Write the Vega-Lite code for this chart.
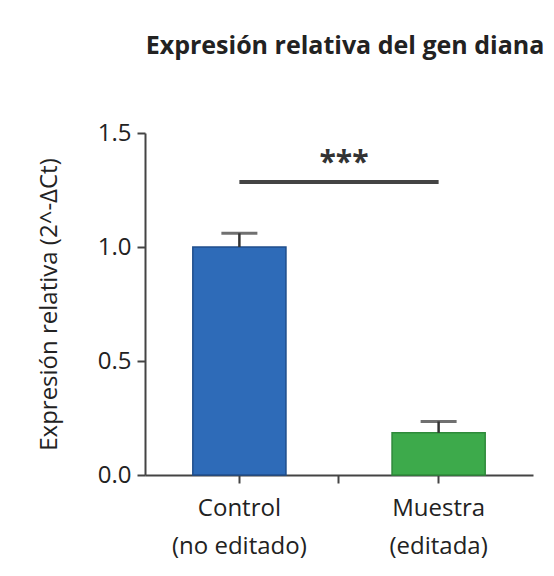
{
  "$schema": "https://vega.github.io/schema/vega-lite/v6.json",
  "width": 388,
  "height": 342,
  "autosize": {"type": "none"},
  "padding": {"left": 145, "top": 133, "right": 21, "bottom": 101},
  "background": "white",
  "title": {
    "text": "Expresión relativa del gen diana",
    "font": "Open Sans",
    "fontSize": 25,
    "fontWeight": "bold",
    "color": "#222222",
    "anchor": "middle",
    "frame": "group",
    "baseline": "alphabetic",
    "offset": 42,
    "dx": 6
  },
  "datasets": {
    "barras": [
      {"grupo": "Control", "valor": 1.0, "err": 1.06},
      {"grupo": "Muestra", "valor": 0.185, "err": 0.235}
    ],
    "signif": [
      {"desde": "Control", "hasta": "Muestra", "y": 1.285, "pos": "mid", "ty": 1.37, "txt": "***"}
    ]
  },
  "config": {
    "view": {"stroke": null},
    "axis": {
      "labelFont": "Open Sans",
      "titleFont": "Open Sans",
      "labelColor": "#222222",
      "titleColor": "#222222",
      "domainColor": "#444444",
      "tickColor": "#444444",
      "domainWidth": 2,
      "tickWidth": 2,
      "tickSize": 8,
      "grid": false
    }
  },
  "encoding": {
    "x": {
      "field": "grupo",
      "type": "nominal",
      "scale": {"domain": ["Control", "mid", "Muestra"], "paddingInner": 0.065, "paddingOuter": 0.48},
      "axis": {
        "title": null,
        "labelAngle": 0,
        "labelFontSize": 24,
        "labelPadding": 13,
        "labelLineHeight": 38,
        "labelExpr": "datum.value == 'Control' ? ['Control', '(no editado)'] : datum.value == 'Muestra' ? ['Muestra', '(editada)'] : ''"
      }
    }
  },
  "layer": [
    {
      "data": {"name": "barras"},
      "mark": {"type": "bar", "strokeWidth": 1.5},
      "encoding": {
        "y": {
          "field": "valor",
          "type": "quantitative",
          "scale": {"domain": [0, 1.5], "nice": false},
          "axis": {
            "title": "Expresión relativa (2^-ΔCt)",
            "titleFontSize": 24,
            "titleFontWeight": "normal",
            "titlePadding": 36,
            "titleLimit": 1000,
            "values": [0, 0.5, 1.0, 1.5],
            "format": ".1f",
            "labelFontSize": 24,
            "labelPadding": 6
          }
        },
        "fill": {
          "field": "grupo",
          "type": "nominal",
          "scale": {"domain": ["Control", "Muestra"], "range": ["#2E6BB8", "#3DAA4B"]},
          "legend": null
        },
        "stroke": {
          "field": "grupo",
          "type": "nominal",
          "scale": {"domain": ["Control", "Muestra"], "range": ["#1F4E8C", "#2E8A3A"]},
          "legend": null
        }
      }
    },
    {
      "data": {"name": "barras"},
      "mark": {"type": "rule", "color": "#333333", "strokeWidth": 2.5},
      "encoding": {
        "y": {"field": "valor", "type": "quantitative"},
        "y2": {"field": "err"}
      }
    },
    {
      "data": {"name": "barras"},
      "mark": {"type": "tick", "color": "#333333", "size": 36, "thickness": 3, "orient": "horizontal"},
      "encoding": {
        "y": {"field": "err", "type": "quantitative"}
      }
    },
    {
      "data": {"name": "signif"},
      "mark": {"type": "rule", "color": "#444444", "strokeWidth": 4},
      "encoding": {
        "x": {"field": "desde", "type": "nominal"},
        "x2": {"field": "hasta"},
        "y": {"field": "y", "type": "quantitative"}
      }
    },
    {
      "data": {"name": "signif"},
      "mark": {"type": "text", "font": "Open Sans", "fontSize": 30, "fontWeight": "bold", "color": "#333333", "baseline": "middle", "dx": 5},
      "encoding": {
        "x": {"field": "pos", "type": "nominal"},
        "y": {"field": "ty", "type": "quantitative"},
        "text": {"field": "txt"}
      }
    }
  ]
}
